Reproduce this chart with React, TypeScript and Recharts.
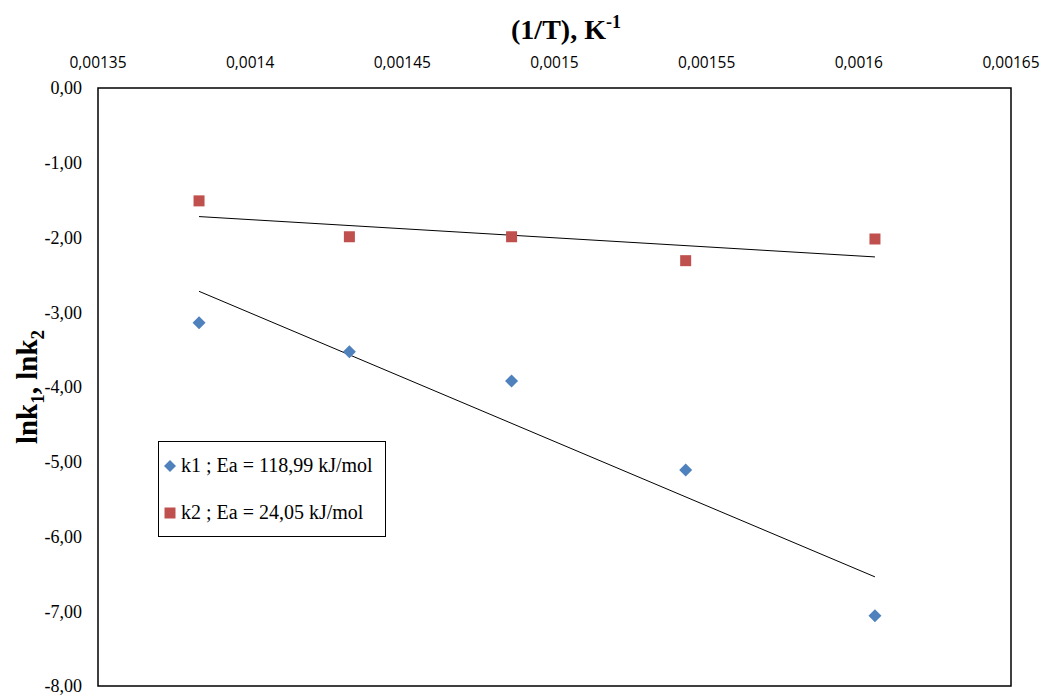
import React from 'react';
import { ComposedChart, Scatter, XAxis, YAxis, ReferenceArea, ReferenceLine, Label } from 'recharts';

const invT = [0.0013832, 0.0014326, 0.0014859, 0.0015431, 0.0016053];
const lnk1 = [-3.14, -3.53, -3.92, -5.11, -7.06];
const lnk2 = [-1.51, -1.99, -1.99, -2.31, -2.02];
const trend1X = [0.0013832, 0.0016053];
const trend1Y = [-2.72, -6.54];
const trend2X = [0.0013832, 0.0016053];
const trend2Y = [-1.72, -2.26];
const xTicks = [0.00135, 0.0014, 0.00145, 0.0015, 0.00155, 0.0016, 0.00165];
const yTicks = [0, -1, -2, -3, -4, -5, -6, -7, -8];
const legendLabels = ['k1 ; Ea = 118,99 kJ/mol', 'k2 ; Ea = 24,05 kJ/mol'];

const BLUE = '#4F81BD';
const RED = '#C0504D';

const data1 = invT.map((x, i) => ({ x, y: lnk1[i] }));
const data2 = invT.map((x, i) => ({ x, y: lnk2[i] }));

const Diamond = (props: any) => {
  const { cx, cy } = props;
  const r = 6.5;
  return <polygon points={`${cx},${cy - r} ${cx + r},${cy} ${cx},${cy + r} ${cx - r},${cy}`} fill={BLUE} />;
};
const Square = (props: any) => {
  const { cx, cy } = props;
  const s = 11;
  return <rect x={cx - s / 2} y={cy - s / 2} width={s} height={s} fill={RED} />;
};

const fmtX = (v: number) => String(v).replace('.', ',');
const fmtY = (v: number) => v.toFixed(2).replace('.', ',');

const TitleX = () => (
  <text x={566} y={39} textAnchor="middle" fontFamily="'Liberation Serif', serif" fontWeight="bold" fontSize={28} fill="#000">
    (1/T), K<tspan dy={-11} fontSize={18}>-1</tspan>
  </text>
);
const TitleY = () => (
  <text transform="translate(37,387) rotate(-90)" textAnchor="middle" fontFamily="'Liberation Serif', serif" fontWeight="bold" fontSize={29} fill="#000">
    lnk<tspan dy={7} fontSize={19}>1</tspan><tspan dy={-7}>, lnk</tspan><tspan dy={7} fontSize={19}>2</tspan>
  </text>
);

export default function App() {
  return (
    <div style={{ position: 'absolute', left: 0, top: 0, width: 1047, height: 697, background: '#fff' }}>
      <ComposedChart width={1047} height={697} margin={{ top: 48, right: 36, bottom: 11, left: 0 }}>
        <XAxis
          type="number"
          dataKey="x"
          orientation="top"
          domain={[0.00135, 0.00165]}
          ticks={xTicks}
          tickFormatter={fmtX}
          tickLine={false}
          tickSize={0}
          tickMargin={20}
          axisLine={false}
          height={40}
          interval={0}
          allowDataOverflow
          tick={{ fontFamily: "'Open Sans', sans-serif", fontSize: 15.5, fill: '#000' }}
        >
          <Label content={<TitleX />} />
        </XAxis>
        <YAxis
          type="number"
          dataKey="y"
          domain={[-8, 0]}
          ticks={yTicks}
          tickFormatter={fmtY}
          tickLine={false}
          tickSize={0}
          tickMargin={16}
          axisLine={false}
          width={98}
          interval={0}
          allowDataOverflow
          tick={{ fontFamily: "'Liberation Serif', serif", fontSize: 18, fill: '#000' }}
        >
          <Label content={<TitleY />} />
        </YAxis>
        <ReferenceArea x1={0.00135} x2={0.00165} y1={-8} y2={0} fill="none" stroke="#000" strokeWidth={1.5} ifOverflow="visible" />
        <ReferenceLine segment={[{ x: trend1X[0], y: trend1Y[0] }, { x: trend1X[1], y: trend1Y[1] }]} stroke="#000" strokeWidth={1} ifOverflow="visible" />
        <ReferenceLine segment={[{ x: trend2X[0], y: trend2Y[0] }, { x: trend2X[1], y: trend2Y[1] }]} stroke="#000" strokeWidth={1} ifOverflow="visible" />
        <Scatter name={legendLabels[0]} data={data1} dataKey="y" shape={<Diamond />} isAnimationActive={false} />
        <Scatter name={legendLabels[1]} data={data2} dataKey="y" shape={<Square />} isAnimationActive={false} />
      </ComposedChart>
      <div
        style={{
          position: 'absolute', left: 158, top: 441, width: 228, height: 96, boxSizing: 'border-box',
          border: '1.5px solid #000', background: '#fff', fontFamily: "'Liberation Serif', serif", fontSize: 20, color: '#000',
        }}
      >
        <div style={{ position: 'absolute', left: 4, top: 12, display: 'flex', alignItems: 'center', whiteSpace: 'nowrap' }}>
          <svg width={14} height={14} style={{ marginRight: 4 }}>
            <polygon points="7,1 13,7 7,13 1,7" fill={BLUE} />
          </svg>
          {legendLabels[0]}
        </div>
        <div style={{ position: 'absolute', left: 4, top: 59, display: 'flex', alignItems: 'center', whiteSpace: 'nowrap' }}>
          <svg width={14} height={14} style={{ marginRight: 4 }}>
            <rect x={1.5} y={1.5} width={11} height={11} fill={RED} />
          </svg>
          {legendLabels[1]}
        </div>
      </div>
    </div>
  );
}
